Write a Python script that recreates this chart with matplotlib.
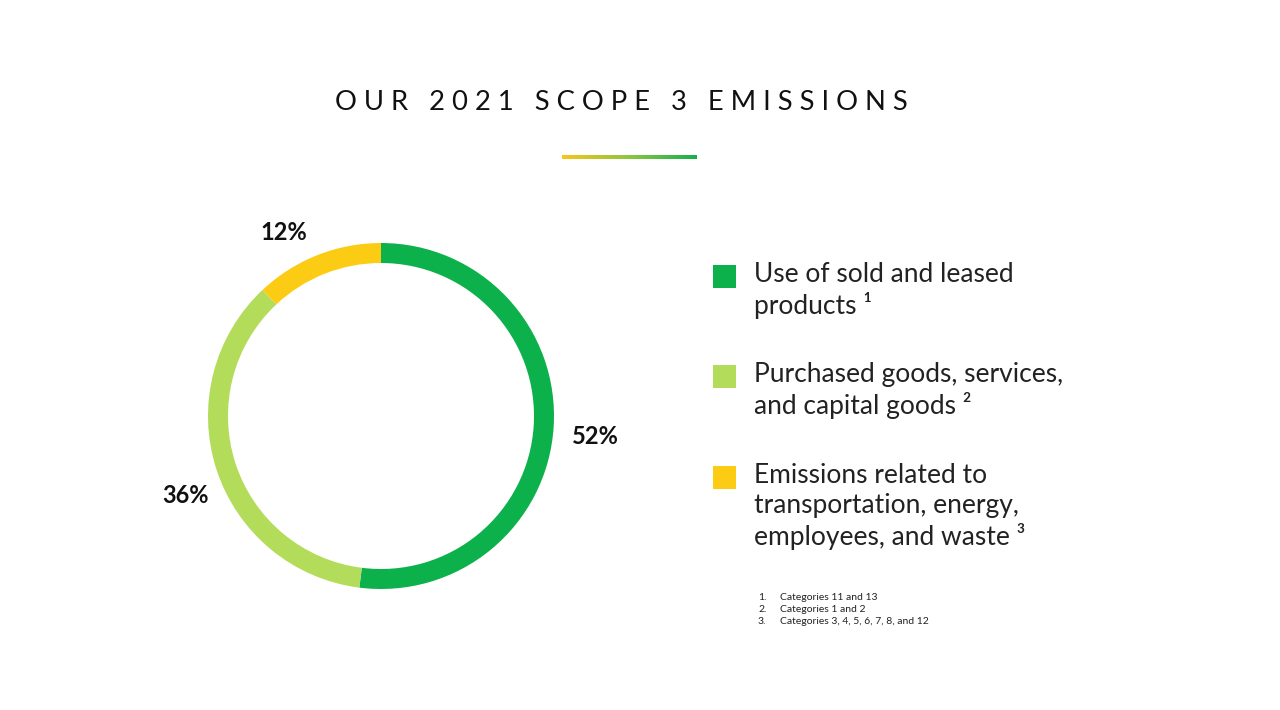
import numpy as np
import matplotlib.pyplot as plt
from matplotlib.colors import LinearSegmentedColormap

plt.rcParams['font.family'] = ['Lato', 'DejaVu Sans']

# data
categories = ['Use of sold and leased\nproducts \u00b9',
              'Purchased goods, services,\nand capital goods \u00b2',
              'Emissions related to\ntransportation, energy,\nemployees, and waste \u00b3']
shares = [52, 36, 12]
colors = ['#0db14b', '#b3dc5a', '#fccc14']
footnotes = ['Categories 11 and 13', 'Categories 1 and 2',
             'Categories 3, 4, 5, 6, 7, 8, and 12']
title = 'OUR 2021 SCOPE 3 EMISSIONS'

W, H = 1280, 710
fig = plt.figure(figsize=(W / 100, H / 100), dpi=100)
fig.patch.set_facecolor('white')

# overlay axes in pixel coordinates for text
bg = fig.add_axes([0, 0, 1, 1])
bg.axis('off')

# title with wide letter spacing
spaced = '   '.join(' '.join(w) for w in title.split(' '))
bg.text(621, 103, spaced, ha='center', va='center', fontsize=19.7,
        color='#111111')

# gradient underline
grad = LinearSegmentedColormap.from_list('g', ['#f7c51a', '#8cc63f', '#14b04b'])
bg.imshow(np.linspace(0, 1, 200)[None, :], cmap=grad, aspect='auto',
          extent=(562, 697, 159, 155), zorder=2)
bg.set_xlim(0, W)
bg.set_ylim(H, 0)

# donut
cx, cy, r = 381, 416, 173
ax = fig.add_axes([(cx - r) / W, (H - cy - r) / H, 2 * r / W, 2 * r / H])
wedges, texts = ax.pie(shares, colors=colors, startangle=90, counterclock=False,
                       radius=1, labels=[f'{s}%' for s in shares],
                       wedgeprops=dict(width=20 / 173, linewidth=0),
                       textprops=dict(fontsize=17, fontweight='bold',
                                      color='#111111'))
# label placement (layout, in donut radii)
label_pos = [(1.24, -0.12), (-1.13, -0.46), (-0.56, 1.06)]
for t, p in zip(texts, label_pos):
    t.set_position(p)
    t.set_ha('center')
    t.set_va('center')
ax.set_xlim(-1, 1)
ax.set_ylim(-1, 1)
ax.set_aspect('equal')

# legend
tops = [265, 365, 466]
for y0, lab, c in zip(tops, categories, colors):
    bg.add_patch(plt.Rectangle((713, y0), 23, 23, color=c, lw=0))
    bg.text(754, y0 - 3, lab, ha='left', va='top', fontsize=19,
            color='#222222', linespacing=1.24)

# footnotes
for i, fn in enumerate(footnotes):
    y = 597 + i * 12.5
    bg.text(758, y, f'{i + 1}.', ha='left', va='center', fontsize=7.5, color='#222222')
    bg.text(780, y, fn, ha='left', va='center', fontsize=7.5, color='#222222')

fig.savefig('out.png', dpi=100, facecolor='white')
